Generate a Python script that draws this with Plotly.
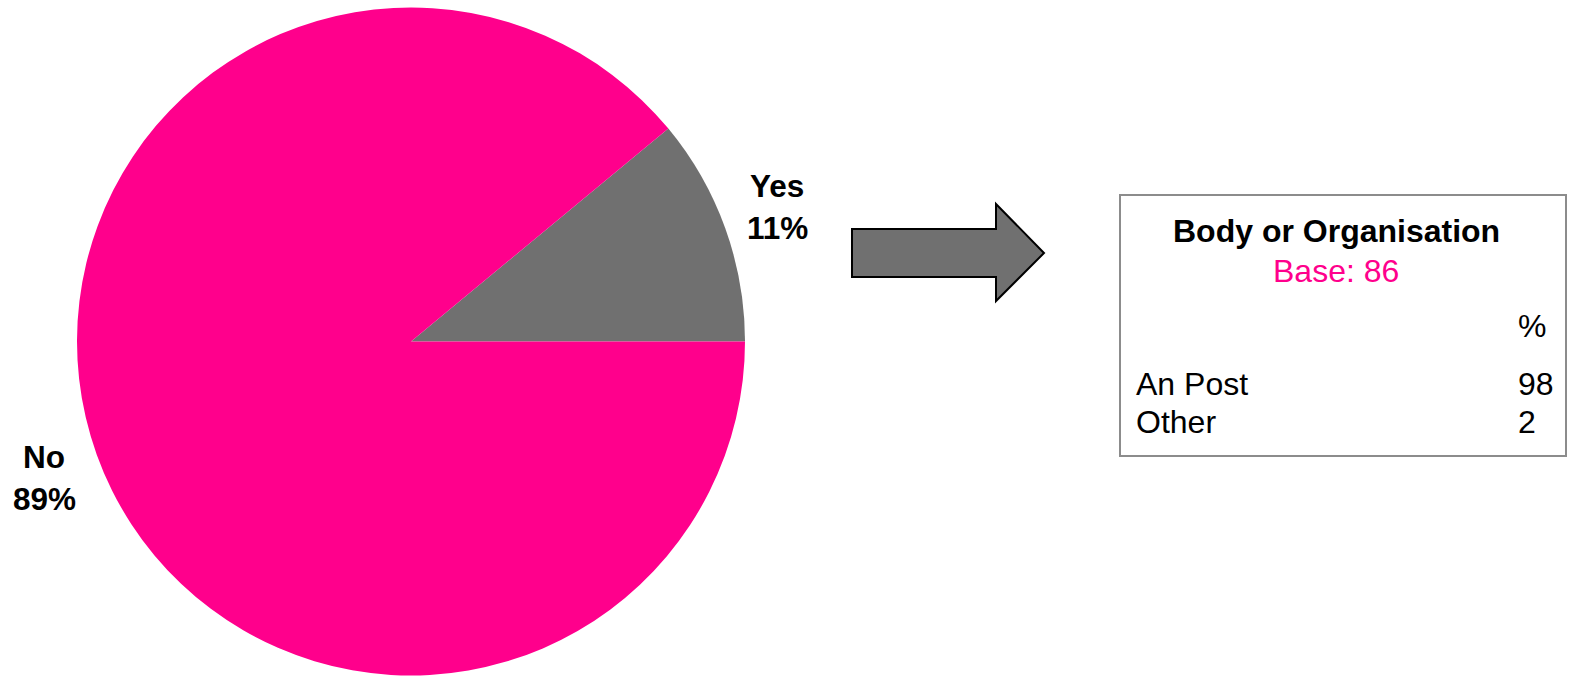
import plotly.graph_objects as go

# ---- data ----
pie_labels = ["Yes", "No"]
pie_values = [11, 89]
pie_colors = ["#707070", "#FF008C"]

table_title = "Body or Organisation"
table_base = "Base: 86"
table_header = "%"
table_rows = ["An Post", "Other"]
table_values = [98, 2]

W, H = 1574, 677
FONT = "Liberation Sans, Arial, sans-serif"

fig = go.Figure()

# pie: centre (411, 341.5), radius 334 px
cx, cy, r = 411, 341.5, 334
fig.add_trace(go.Pie(
    labels=pie_labels, values=pie_values, sort=False,
    direction="counterclockwise", rotation=90 - 360 * pie_values[0] / sum(pie_values),
    marker=dict(colors=pie_colors, line=dict(width=0)),
    textinfo="none", hoverinfo="label+percent", showlegend=False,
    domain=dict(x=[(cx - r) / W, (cx + r) / W],
                y=[1 - (cy + r) / H, 1 - (cy - r) / H]),
))

annotations = []
def txt(x, y, s, size=32, color="black", bold=False, xanchor="center"):
    annotations.append(dict(
        x=x, y=y, xref="x", yref="y", text=("<b>%s</b>" % s) if bold else s,
        showarrow=False, xanchor=xanchor, yanchor="middle",
        font=dict(family=FONT, size=size, color=color)))

# pie labels (cap centre positions)
label_pos = {"Yes": (777, 186, 228), "No": (44, 457, 499)}
for lab, val in zip(pie_labels, pie_values):
    x, y1, y2 = label_pos[lab]
    txt(x, y1, lab, bold=True, size=31.5)
    txt(x, y2, "%d%%" % val, bold=True, size=31.5)

# table box text
txt(1336, 231, table_title, bold=True, size=32)
txt(1336, 271, table_base, color="#FF008C", size=32)
txt(1516, 326, table_header, xanchor="left", size=32)
row_y = [384, 422]
for name, v, y in zip(table_rows, table_values, row_y):
    txt(1134, y, name, xanchor="left", size=32)
    txt(1516, y, str(v), xanchor="left", size=32)

shapes = [
    # arrow
    dict(type="path", xref="x", yref="y",
         path="M 852 229 L 996 229 L 996 204 L 1044 253 L 996 301 L 996 277 L 852 277 Z",
         fillcolor="#707070", line=dict(color="black", width=2)),
    # table box
    dict(type="rect", xref="x", yref="y", x0=1120, y0=195, x1=1566, y1=456,
         line=dict(color="#8C8C8C", width=2), fillcolor="rgba(0,0,0,0)"),
]

fig.update_layout(
    width=W, height=H, margin=dict(l=0, r=0, t=0, b=0),
    paper_bgcolor="white", plot_bgcolor="white",
    xaxis=dict(range=[0, W], visible=False, fixedrange=True),
    yaxis=dict(range=[H, 0], visible=False, fixedrange=True),
    annotations=annotations, shapes=shapes,
)

fig.write_html("out.html")
